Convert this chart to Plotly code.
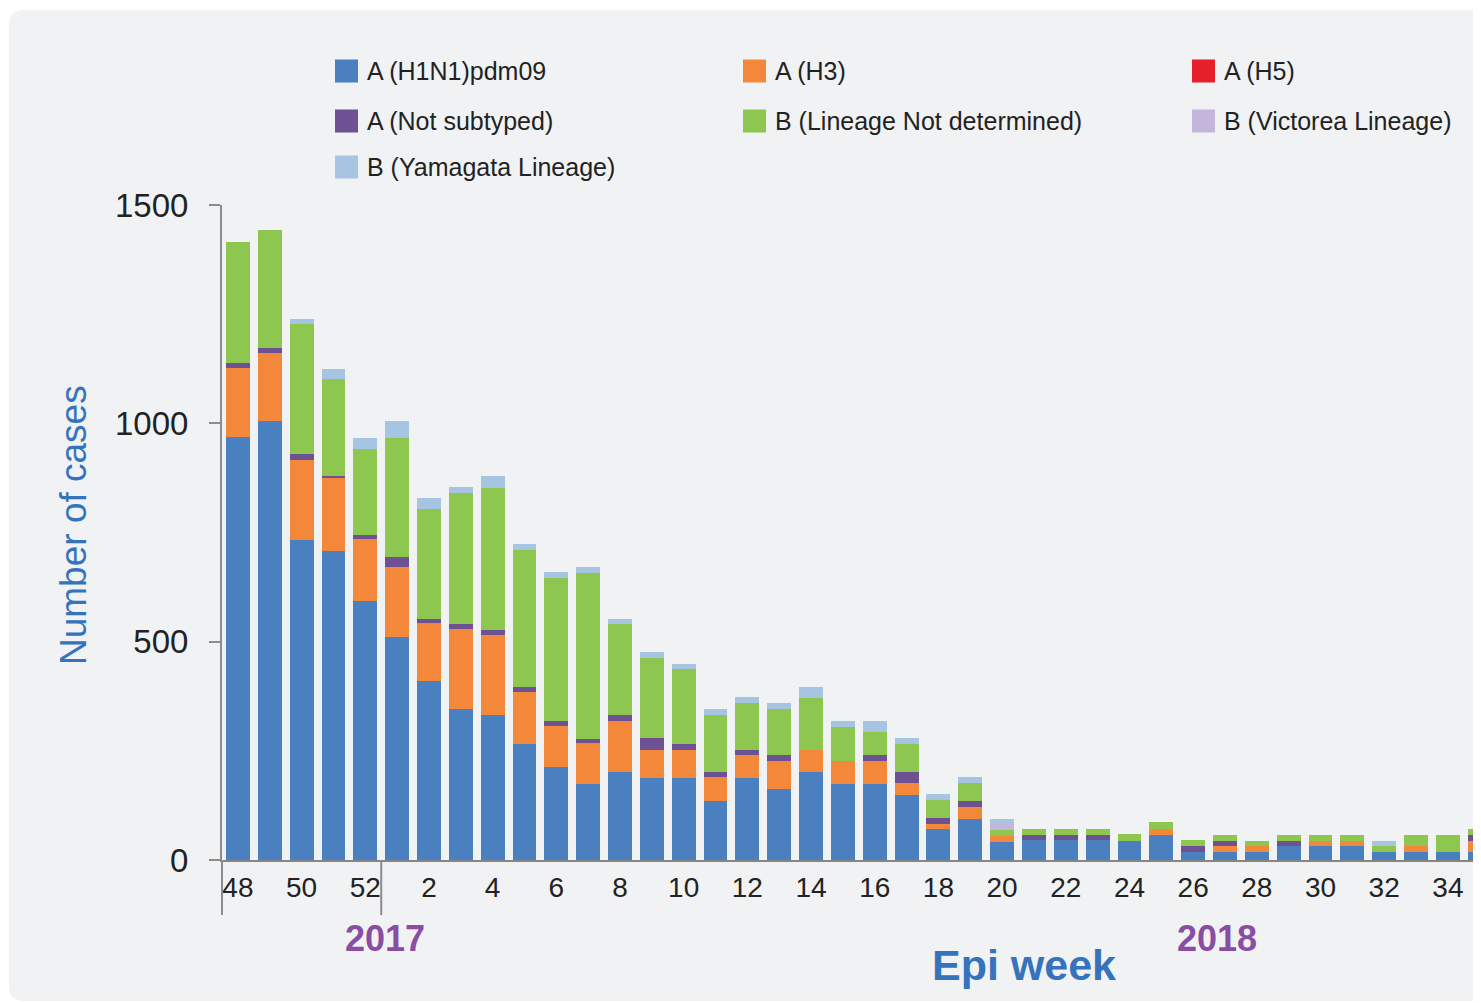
import plotly.graph_objects as go

# ---------------- data ----------------
weeks = ["48", "49", "50", "51", "52",
         "1", "2", "3", "4", "5", "6", "7", "8", "9", "10",
         "11", "12", "13", "14", "15", "16", "17", "18", "19", "20",
         "21", "22", "23", "24", "25", "26", "27", "28", "29", "30",
         "31", "32", "33", "34", "35"]

h1n1 = [968, 1005, 733, 708, 592,
        511, 410, 345, 332, 265, 214, 174, 201, 187, 187,
        136, 187, 162, 201, 174, 174, 149, 70, 95, 42,
        46, 46, 46, 44, 57, 19, 19, 19, 32, 31,
        31, 18, 19, 19, 19]
h3 = [158, 156, 183, 169, 143,
      159, 132, 185, 183, 120, 93, 93, 118, 66, 66,
      53, 53, 65, 51, 53, 53, 27, 13, 27, 13,
      0, 0, 0, 0, 13, 0, 13, 12, 0, 13,
      13, 0, 12, 0, 25]
h5 = [0, 0, 0, 0, 0,
      0, 0, 0, 0, 0, 0, 0, 0, 0, 0,
      0, 0, 0, 0, 0, 0, 0, 0, 0, 0,
      0, 0, 0, 0, 0, 0, 0, 0, 0, 0,
      0, 0, 0, 0, 0]
not_subtyped = [12, 12, 13, 3, 10,
                24, 11, 10, 12, 12, 11, 11, 12, 26, 13,
                12, 13, 13, 0, 0, 13, 25, 13, 14, 0,
                11, 11, 11, 0, 0, 13, 12, 0, 12, 0,
                0, 0, 0, 0, 14]
b_not_determined = [277, 270, 298, 221, 197,
                    273, 250, 301, 326, 313, 327, 380, 209, 184, 171,
                    131, 106, 106, 120, 78, 52, 65, 41, 40, 14,
                    14, 14, 14, 15, 16, 13, 14, 13, 14, 14,
                    14, 14, 27, 39, 12]
b_victoria = [0, 0, 0, 0, 0,
              0, 0, 0, 0, 0, 0, 0, 0, 0, 0,
              0, 0, 0, 0, 0, 0, 0, 0, 0, 13,
              0, 0, 0, 0, 0, 0, 0, 0, 0, 0,
              0, 0, 0, 0, 0]
b_yamagata = [0, 0, 12, 24, 24,
              39, 25, 14, 27, 14, 14, 14, 13, 13, 13,
              13, 14, 13, 25, 14, 27, 14, 14, 13, 13,
              0, 0, 0, 0, 0, 0, 0, 0, 0, 0,
              0, 12, 0, 0, 0]

series_names = ["A (H1N1)pdm09", "A (H3)", "A (H5)", "A (Not subtyped)",
                "B (Lineage Not determined)", "B (Victorea Lineage)",
                "B (Yamagata Lineage)"]
series_values = [h1n1, h3, h5, not_subtyped, b_not_determined, b_victoria, b_yamagata]
series_colors = ["#4A7FC0", "#F4883A", "#E5202A", "#6D5193", "#8DC74F",
                 "#C4B6DA", "#A7C4E2"]

y_ticks = [0, 500, 1000, 1500]
x_tick_labels = ["48", "50", "52", "2", "4", "6", "8", "10", "12", "14", "16",
                 "18", "20", "22", "24", "26", "28", "30", "32", "34"]

# ---------------- layout geometry ----------------
# The page body adds an 8px margin; geometry below is in page pixels.
OFF = 8
W, H = 1481 - OFF, 1003 - OFF
L = 222 - OFF
T = 205 - OFF
R = 0
B = H - (860 - OFF)
PW, PH = W - L - R, H - T - B


def px(x):
    return (x - OFF - L) / PW


def py(y):
    return (H - B - (y - OFF)) / PH


FONT = "Liberation Sans, Arial"

fig = go.Figure()
for name, vals, col in zip(series_names, series_values, series_colors):
    fig.add_trace(go.Bar(x=weeks, y=vals, name=name, marker_color=col,
                         marker_line_width=0, showlegend=False))

# background panel with rounded left corners
r = 15
x0, y0, x1, y1 = 9, 10, 1520, 1001
path = (f"M {px(x0)},{py(y0 + r)} Q {px(x0)},{py(y0)} {px(x0 + r)},{py(y0)} "
        f"L {px(x1)},{py(y0)} L {px(x1)},{py(y1)} L {px(x0 + r)},{py(y1)} "
        f"Q {px(x0)},{py(y1)} {px(x0)},{py(y1 - r)} Z")
shapes = [dict(type="path", path=path, xref="paper", yref="paper",
               fillcolor="#F1F2F4", line_width=0, layer="below")]

# y-axis extension and year separator below the axis
axis_col = "#8C8C8C"
shapes.append(dict(type="line", xref="paper", yref="paper", x0=0, x1=0,
                   y0=0, y1=py(915), line=dict(color=axis_col, width=2)))
shapes.append(dict(type="line", xref="x", yref="paper", x0=4.5, x1=4.5,
                   y0=0, y1=py(915), line=dict(color=axis_col, width=2)))

annotations = []
# manual legend (3 columns)
col_x = [335, 743, 1192]
row_y = [71, 121, 167]
order = [(0, 0, 0), (1, 1, 0), (2, 2, 0), (3, 0, 1), (4, 1, 1), (5, 2, 1), (6, 0, 2)]
sw = 23
for idx, c, rr in order:
    cx, cy = col_x[c], row_y[rr]
    shapes.append(dict(type="rect", xref="paper", yref="paper",
                       x0=px(cx), x1=px(cx + sw), y0=py(cy - sw / 2), y1=py(cy + sw / 2),
                       fillcolor=series_colors[idx], line_width=0))
    annotations.append(dict(text=series_names[idx], xref="paper", yref="paper",
                            x=px(cx + 30), y=py(cy), xanchor="left", yanchor="middle",
                            showarrow=False,
                            font=dict(size=25, color="#222222", family=FONT)))

title_blue = "#3574BC"
year_purple = "#8B4DA3"
annotations.append(dict(text="Number of cases", xref="paper", yref="paper",
                        x=px(73), y=py(525), textangle=-90, showarrow=False,
                        xanchor="center", yanchor="middle",
                        font=dict(size=37, color=title_blue, family=FONT)))
annotations.append(dict(text="<b>Epi week</b>", xref="paper", yref="paper",
                        x=px(1024), y=py(965), showarrow=False,
                        xanchor="center", yanchor="middle",
                        font=dict(size=43, color=title_blue, family=FONT)))
annotations.append(dict(text="<b>2017</b>", xref="paper", yref="paper",
                        x=px(385), y=py(939), showarrow=False,
                        xanchor="center", yanchor="middle",
                        font=dict(size=36, color=year_purple, family=FONT)))
annotations.append(dict(text="<b>2018</b>", xref="paper", yref="paper",
                        x=px(1217), y=py(939), showarrow=False,
                        xanchor="center", yanchor="middle",
                        font=dict(size=36, color=year_purple, family=FONT)))

fig.update_layout(
    width=W, height=H,
    margin=dict(l=L, r=R, t=T, b=B, pad=0),
    paper_bgcolor="white",
    plot_bgcolor="rgba(0,0,0,0)",
    barmode="stack",
    bargap=0.25,
    shapes=shapes,
    annotations=annotations,
    font=dict(family=FONT, color="#222222"),
    xaxis=dict(type="category", categoryorder="array", categoryarray=weeks,
               range=[-0.5, 39.04], tickmode="array", tickvals=x_tick_labels,
               ticktext=x_tick_labels, ticks="", showline=True, linecolor="#8A847E",
               linewidth=2, showgrid=False, zeroline=False,
               tickfont=dict(size=28, color="#222222"), ticklabelstandoff=1),
    yaxis=dict(range=[0, 1500], tickmode="array", tickvals=y_ticks,
               ticks="outside", ticklen=11, tickwidth=2, tickcolor=axis_col,
               showline=True, linecolor=axis_col, linewidth=2,
               showgrid=False, zeroline=False,
               tickfont=dict(size=33, color="#222222"), ticklabelstandoff=14),
)

fig.write_html("out.html")
